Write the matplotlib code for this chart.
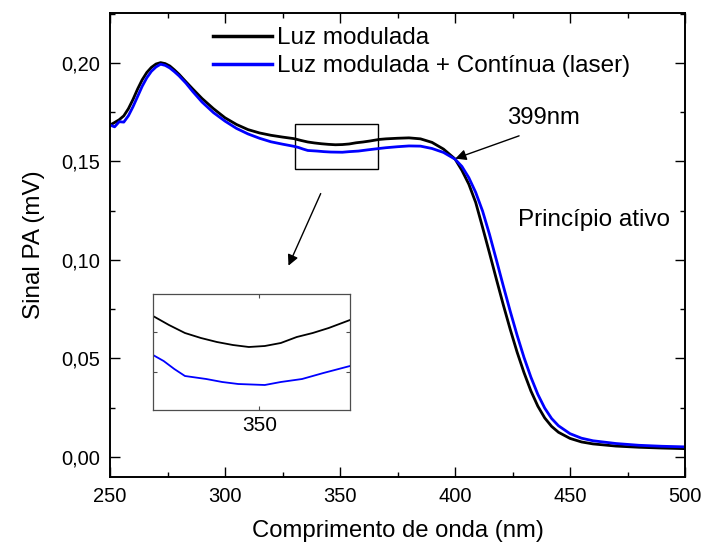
import matplotlib
matplotlib.use("Agg")
import matplotlib.pyplot as plt
from matplotlib.patches import Rectangle
from matplotlib.lines import Line2D

plt.rcParams['font.family'] = ['Liberation Sans', 'DejaVu Sans']

# data
wl_black = [250, 252, 254, 256, 258, 260, 262, 264, 266, 268, 270, 272, 274, 276, 278,
            280, 283, 286, 290, 295, 300, 305, 310, 315, 320, 325, 330, 333, 336, 339,
            342, 345, 348, 351, 354, 357, 360, 363, 367, 370, 375, 380, 385, 390, 395,
            400, 403, 406, 409, 412, 415, 418, 421, 424, 427, 430, 433, 436, 439, 442,
            445, 450, 455, 460, 470, 480, 490, 500]
sig_black = [0.1685, 0.1698, 0.1712, 0.1732, 0.1768, 0.1815, 0.1868, 0.1915, 0.1952, 0.1978,
             0.1995, 0.2002, 0.1997, 0.1985, 0.1965, 0.1943, 0.1905, 0.1868, 0.1820, 0.1768,
             0.1722, 0.1688, 0.1662, 0.1645, 0.1633, 0.1624, 0.1616, 0.1607, 0.1599, 0.1594,
             0.1590, 0.1587, 0.1585, 0.1586, 0.1589, 0.1595, 0.1599, 0.1604, 0.1612, 0.1615,
             0.1618, 0.1620, 0.1615, 0.1597, 0.1563, 0.1513, 0.1455, 0.1385, 0.1292, 0.1165,
             0.1035, 0.0902, 0.0772, 0.0648, 0.0532, 0.0428, 0.0335, 0.0258, 0.0198, 0.0155,
             0.0125, 0.0094, 0.0076, 0.0066, 0.0055, 0.0049, 0.0045, 0.0042]

wl_blue = [250, 252, 254, 256, 258, 260, 262, 264, 266, 268, 270, 272, 274, 276, 278,
           280, 283, 286, 290, 295, 300, 305, 310, 315, 320, 325, 330, 332, 334, 336,
           340, 343, 346, 351, 354, 358, 362, 367, 370, 375, 380, 385, 390, 395, 400,
           403, 406, 409, 412, 415, 418, 421, 424, 427, 430, 433, 436, 439, 442, 445,
           450, 455, 460, 470, 480, 490, 500]
sig_blue = [0.1685, 0.1676, 0.1702, 0.1700, 0.1732, 0.1778, 0.1830, 0.1882, 0.1925, 0.1958,
            0.1980, 0.1994, 0.1988, 0.1975, 0.1956, 0.1935, 0.1898, 0.1855, 0.1802, 0.1748,
            0.1705, 0.1668, 0.1640, 0.1618, 0.1600, 0.1588, 0.1577, 0.1571, 0.1563, 0.1556,
            0.1553, 0.1550, 0.1548, 0.1547, 0.1550, 0.1553, 0.1559, 0.1566, 0.1570, 0.1575,
            0.1579, 0.1578, 0.1566, 0.1546, 0.1512, 0.1475, 0.1418, 0.1343, 0.1248, 0.1130,
            0.1000, 0.0868, 0.0740, 0.0618, 0.0505, 0.0405, 0.0318, 0.0248, 0.0195, 0.0158,
            0.0118, 0.0095, 0.0082, 0.0068, 0.0059, 0.0054, 0.0051]

labels = ['Luz modulada', 'Luz modulada + Contínua (laser)']
x_ticks = [250, 300, 350, 400, 450, 500]
y_ticks = [0.00, 0.05, 0.10, 0.15, 0.20]
y_ticklabels = ['0,00', '0,05', '0,10', '0,15', '0,20']

fig = plt.figure(figsize=(7.04, 5.45), dpi=100)
ax = fig.add_axes([110 / 704, 68 / 545, 575 / 704, 464 / 545])

ax.plot(wl_black, sig_black, color='black', lw=2.0)
ax.plot(wl_blue, sig_blue, color='#0000ff', lw=2.0)

ax.set_xlim(250, 500)
ax.set_ylim(-0.0102, 0.2254)
ax.set_xticks(x_ticks)
ax.set_xticks([275, 325, 375, 425, 475], minor=True)
ax.set_yticks(y_ticks)
ax.set_yticklabels(y_ticklabels)
ax.set_yticks([0.025, 0.075, 0.125, 0.175, 0.225], minor=True)
ax.tick_params(which='both', direction='in', top=True, right=True, labelsize=14.5, width=1.0)
ax.tick_params(which='major', length=7, pad=7)
ax.tick_params(which='minor', length=3.6)
for s in ax.spines.values():
    s.set_linewidth(1.4)

ax.set_xlabel('Comprimento de onda (nm)', fontsize=17.2, labelpad=10.5)
ax.set_ylabel('Sinal PA (mV)', fontsize=17.5, labelpad=12)

handles = [Line2D([], [], color='black', lw=2.5), Line2D([], [], color='#0000ff', lw=2.5)]
ax.legend(handles, labels, loc='upper left', bbox_to_anchor=(0.179, 0.969), frameon=False,
          fontsize=17.5, handlelength=2.45, handletextpad=0.2, labelspacing=0.25,
          borderpad=0, borderaxespad=0)

# annotations
ax.annotate('', xy=(399, 0.151), xytext=(429, 0.1635),
            arrowprops=dict(arrowstyle='-|>', color='black', lw=1.0, mutation_scale=16))
ax.text(422.6, 0.172, '399nm', fontsize=17.2, va='center', ha='left')
ax.text(427.4, 0.1203, 'Princípio ativo', fontsize=17.5, va='center', ha='left')

ax.add_patch(Rectangle((330.4, 0.1462), 36.2, 0.0227, fill=False, lw=1.0, ec='black'))
ax.annotate('', xy=(327.1, 0.0958), xytext=(342.1, 0.135),
            arrowprops=dict(arrowstyle='-|>', color='black', lw=1.0, mutation_scale=16))

# inset
axin = fig.add_axes([153 / 704, 135 / 545, 197 / 704, 116 / 545])
axin.plot(wl_black, sig_black, color='black', lw=1.3)
axin.plot(wl_blue, sig_blue, color='#0000ff', lw=1.3)
axin.set_xlim(330, 367)
axin.set_ylim(0.1522, 0.1638)
axin.set_xticks([350])
axin.set_yticks([0.156, 0.160])
axin.set_yticklabels([])
axin.tick_params(direction='in', top=True, right=True, length=3, width=0.8,
                 labelsize=15, pad=4, color='0.3')
for s in axin.spines.values():
    s.set_linewidth(0.9)
    s.set_color('0.3')

fig.savefig('out.png', dpi=100)
